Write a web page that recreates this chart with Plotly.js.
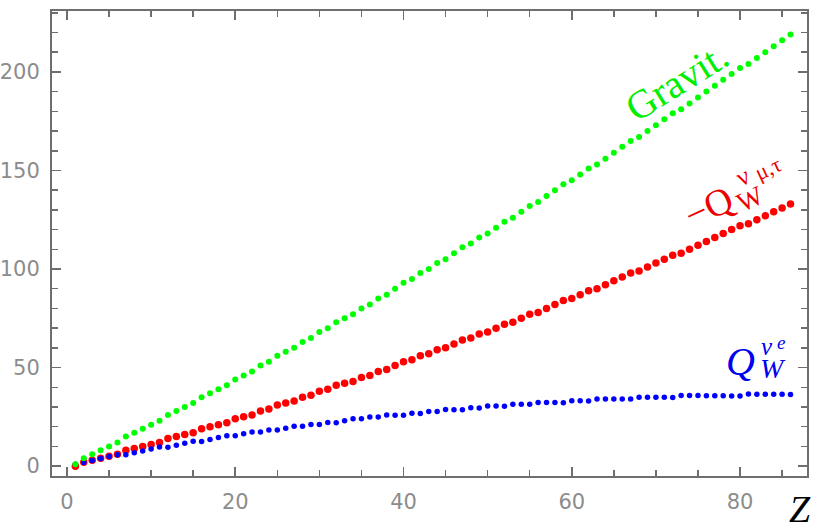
<!DOCTYPE html>
<html>
<head>
<meta charset="utf-8">
<script src="https://cdn.plot.ly/plotly-3.0.1.min.js"></script>
<style>html,body{margin:0;padding:0;background:#fff;}#chart{width:820px;height:531px;}</style>
</head>
<body>
<div id="chart"></div>
<script>
// Atomic number Z
const Z = [1,2,3,4,5,6,7,8,9,10,11,12,13,14,15,16,17,18,19,20,21,22,23,24,25,26,27,28,29,30,
  31,32,33,34,35,36,37,38,39,40,41,42,43,44,45,46,47,48,49,50,51,52,53,54,55,56,57,58,59,60,
  61,62,63,64,65,66,67,68,69,70,71,72,73,74,75,76,77,78,79,80,81,82,83,84,85,86];

// Gravitational charge (green)
const gravit = [1,4,6,8,10,12,15,17,19,21,23,26,28,30,32,35,37,39,41,44,46,48,51,53,56,58,60,63,65,68,
  70,73,75,77,80,82,85,87,90,93,95,98,100,103,105,108,111,113,116,118,121,124,126,129,132,134,137,140,143,145,
  148,151,153,156,159,162,165,167,170,173,176,179,181,184,187,190,193,196,199,202,204,207,210,213,216,219];

// -Q_W^{nu_mu,tau} (red)
const qwMuTau = [0,2,3,4,5,6,8,9,10,11,12,14,15,16,17,19,20,21,22,24,25,26,28,29,31,32,33,35,36,38,
  39,41,42,43,45,46,48,49,51,53,54,56,57,59,60,62,64,65,67,68,70,72,73,75,77,78,80,82,84,85,
  87,89,90,92,94,96,98,99,101,103,105,107,108,110,112,114,116,118,120,122,123,125,127,129,131,133];

// Q_W^{nu_e} (blue)
const qwE = [1.0,1.9,2.9,3.9,4.9,5.8,5.8,6.8,7.7,8.7,9.7,9.6,10.6,11.6,12.6,12.5,13.5,14.5,15.4,15.4,
  16.4,17.3,17.3,18.3,18.3,19.2,20.2,20.2,21.1,21.1,22.1,22.0,23.0,24.0,24.0,24.9,24.9,25.9,25.8,25.8,
  26.8,26.7,27.7,27.7,28.7,28.6,28.6,29.6,29.5,30.5,30.5,30.4,31.4,31.4,31.4,32.3,32.3,32.3,32.2,33.2,
  33.2,33.1,34.1,34.1,34.1,34.0,34.0,35.0,34.9,34.9,34.9,34.8,35.8,35.8,35.8,35.7,35.7,35.7,35.6,35.6,
  36.6,36.5,36.5,36.5,36.5,36.4];

const xTicks = [0,20,40,60,80];
const yTicks = [0,50,100,150,200];

// plot area in pixels
const L = 52, R = 807, T = 11.3, B = 476.5;
function P(px, py){ return {x:(px-L)/(R-L), y:(B-py)/(B-T)}; }
function ann(text, px, py, size, color, angle){
  const p = P(px, py);
  return {xref:'paper', yref:'paper', x:p.x, y:p.y, xanchor:'center', yanchor:'middle',
    text:text, showarrow:false, textangle:angle||0,
    font:{family:'Liberation Serif, Times New Roman, serif', size:size, color:color}};
}

const traces = [
  {x:Z, y:qwMuTau, mode:'markers', type:'scatter', marker:{color:'#ff0000', size:7.5}, cliponaxis:false},
  {x:Z, y:qwE, mode:'markers', type:'scatter', marker:{color:'#0000ff', size:5.5}, cliponaxis:false},
  {x:Z, y:gravit, mode:'markers', type:'scatter', marker:{color:'#00ff00', size:6}, cliponaxis:false}
];

const axisCommon = {
  showgrid:false, zeroline:false, showline:true, linecolor:'#6e6e6e', linewidth:2,
  mirror:'ticks', ticks:'inside', ticklen:9, tickwidth:1.5, tickcolor:'#6e6e6e',
  tickfont:{family:'DejaVu Sans, sans-serif', size:21, color:'#8c8c8c'}
};

const layout = {
  width:820, height:531,
  margin:{l:L, r:820-R, t:T, b:531-B},
  paper_bgcolor:'#ffffff', plot_bgcolor:'#ffffff',
  showlegend:false,
  xaxis:Object.assign({}, axisCommon, {range:[-1.78, 87.96], tickmode:'array', tickvals:xTicks,
    ticktext:xTicks.map(String), minor:{dtick:5, tick0:0, ticks:'inside', ticklen:6, tickcolor:'#6e6e6e', tickwidth:1.5},
    ticklabelstandoff:6}),
  yaxis:Object.assign({}, axisCommon, {range:[-5.0, 230.9], tickmode:'array', tickvals:yTicks,
    ticktext:yTicks.map(String), minor:{dtick:10, tick0:0, ticks:'inside', ticklen:6, tickcolor:'#6e6e6e', tickwidth:1.5},
    ticklabelstandoff:6}),
  annotations:[
    ann('Gravit.', 677, 82, 40, '#00ee00', -32),
    ann('−Q', 708, 207, 38, '#ee0000', -25),
    ann('W', 750, 199, 27, '#ee0000', -25),
    ann('ν', 743, 177, 26, '#ee0000', -25),
    ann('μ,τ', 768, 169, 22, '#ee0000', -25),
    ann('<i>Q</i>', 740, 362, 40, '#0000ee', 0),
    ann('<i>W</i>', 773, 369, 28, '#0000ee', 0),
    ann('<i>ν</i>', 767, 347, 25, '#0000ee', 0),
    ann('<i>e</i>', 781, 343, 19, '#0000ee', 0),
    ann('<i>Z</i>', 800, 510, 38, '#000000', 0)
  ]
};

Plotly.newPlot('chart', traces, layout, {displayModeBar:false, staticPlot:true});
</script>
</body>
</html>
